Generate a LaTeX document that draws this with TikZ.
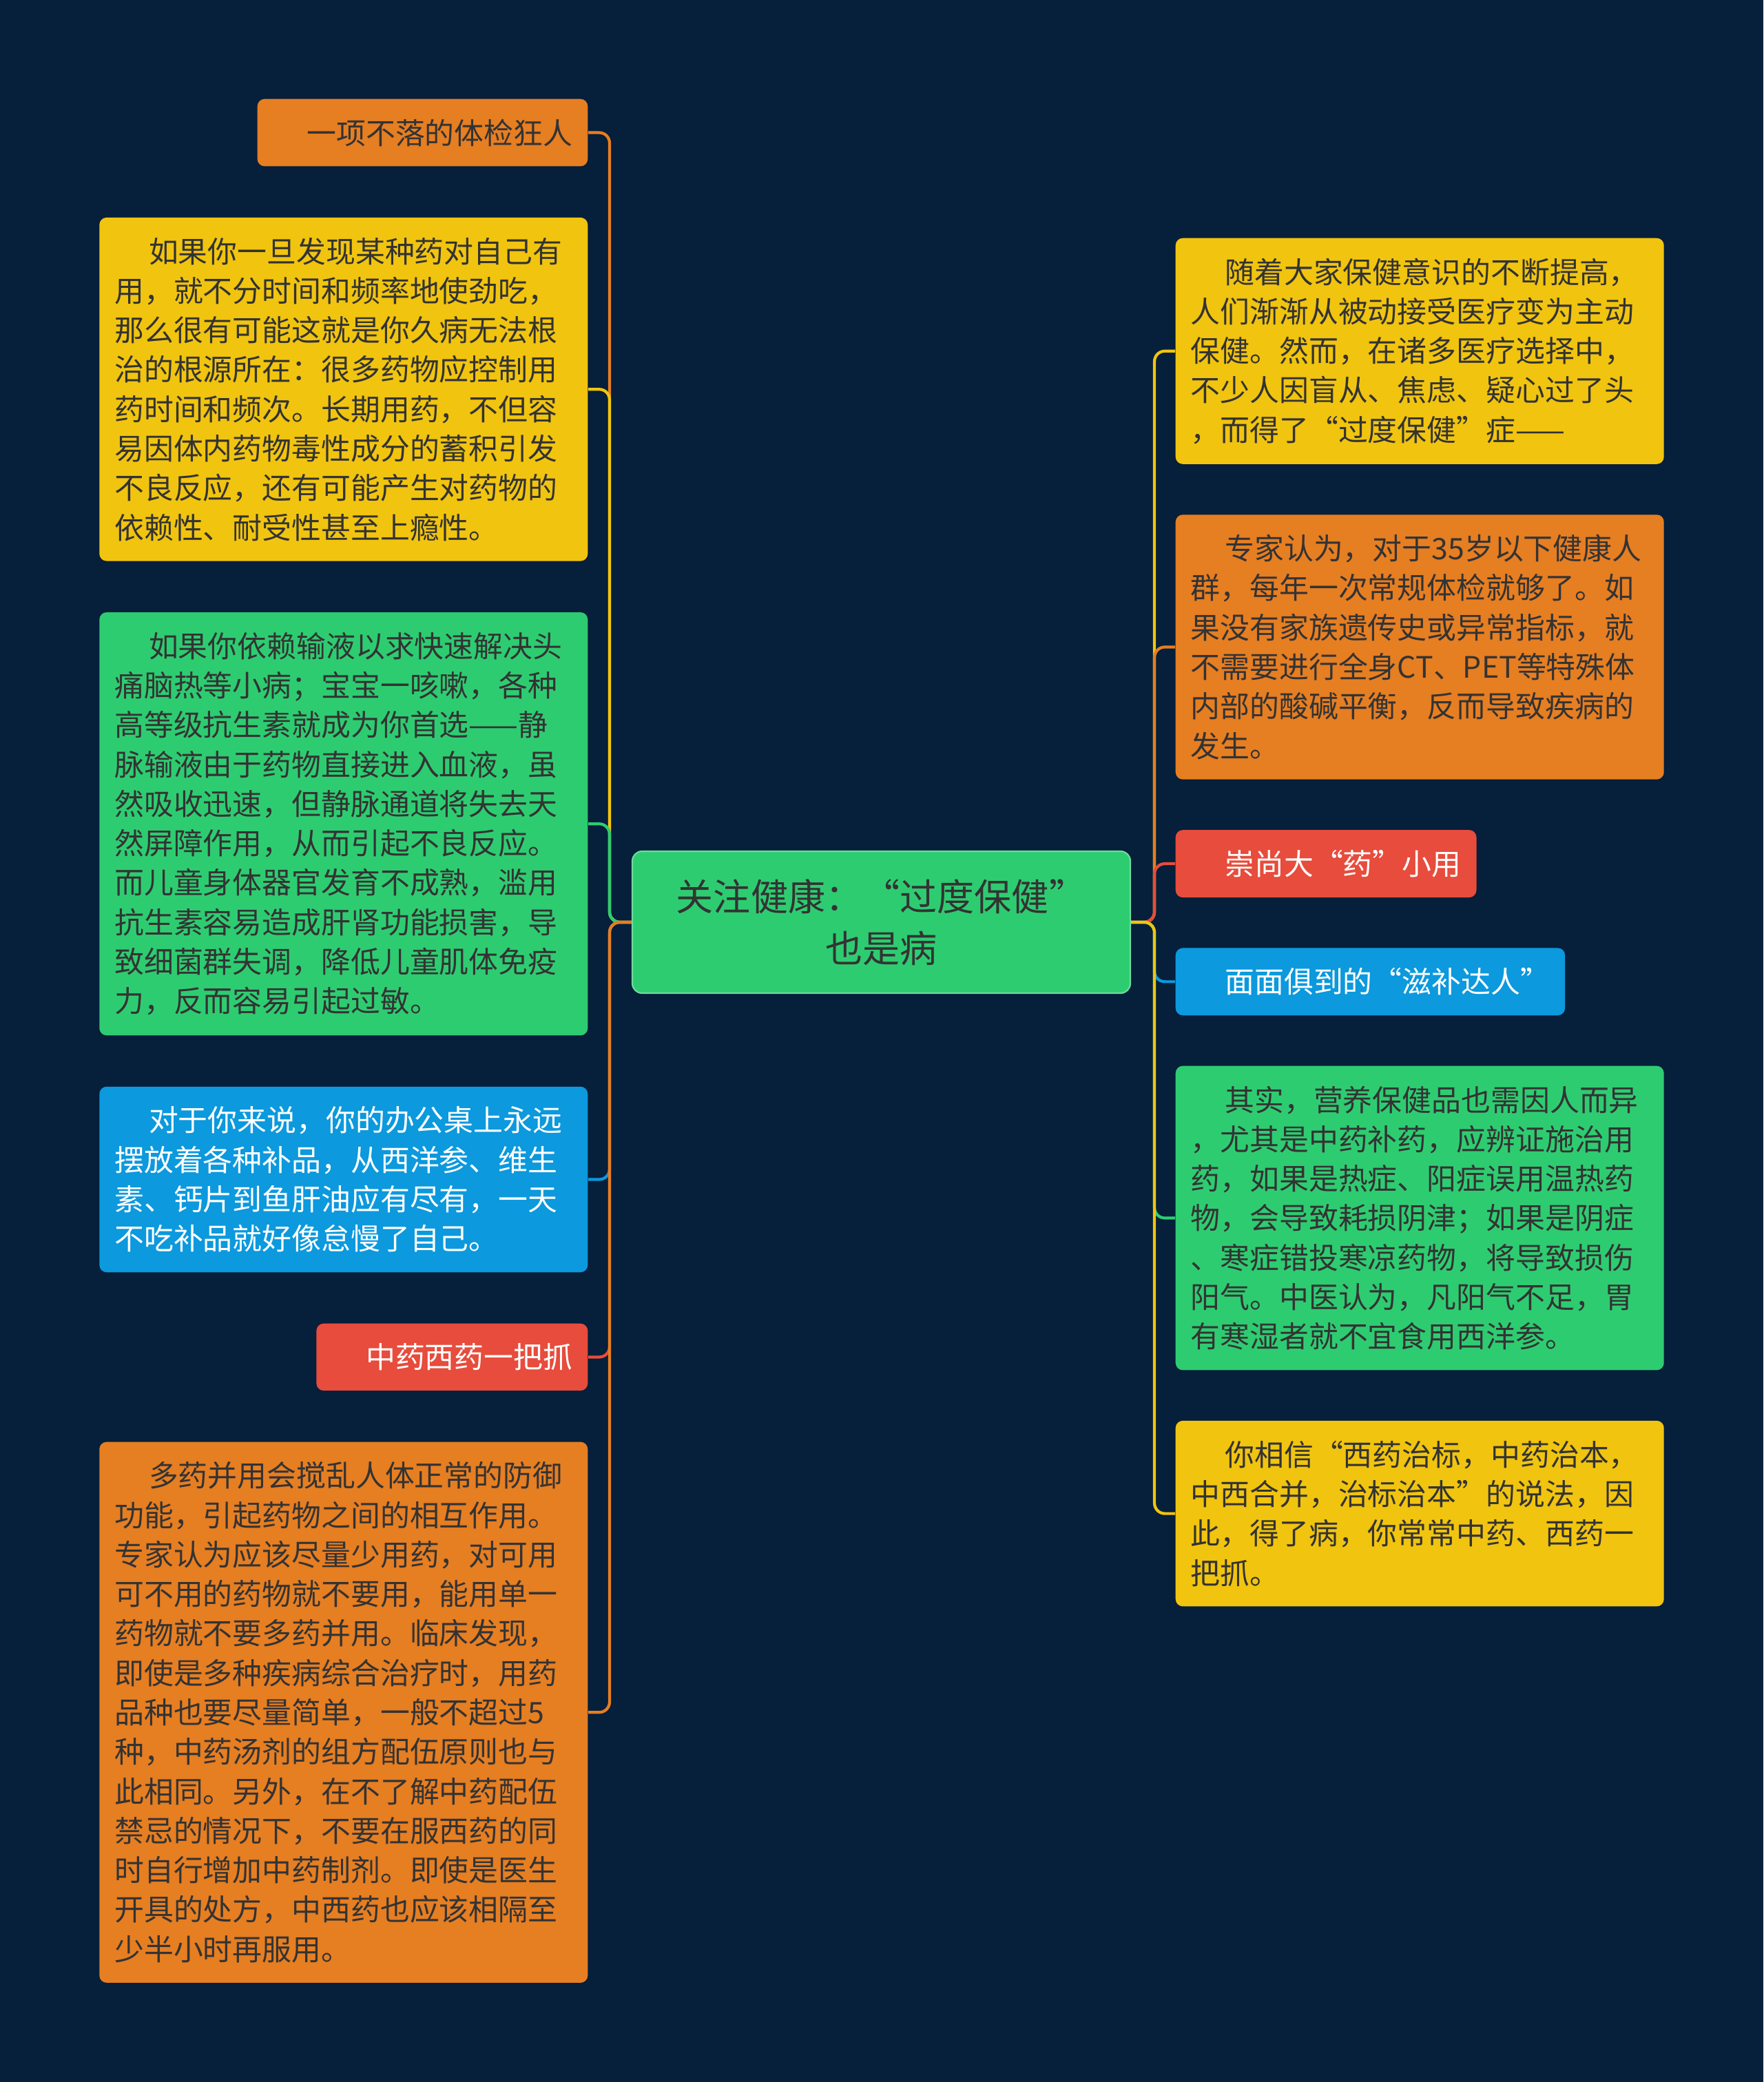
\documentclass[tikz,border=0pt]{standalone}
\usepackage{fontspec}
\setmainfont{Noto Sans CJK SC}
\usetikzlibrary{positioning}

\definecolor{nightC}{HTML}{061F3A}
\definecolor{sunC}{HTML}{F1C40F}
\definecolor{carrotC}{HTML}{E67E22}
\definecolor{leafC}{HTML}{2ECC71}
\definecolor{skyC}{HTML}{0C99DD}
\definecolor{tomatoC}{HTML}{E74C3C}
\definecolor{inkC}{HTML}{333333}

\newcommand{\firstgap}{\hspace*{1.16em}}

\begin{document}
\begin{tikzpicture}[
      font=\fontsize{12.2pt}{16.3pt}\selectfont,
      card/.style={rectangle, rounded corners=3pt, inner xsep=0.22cm,
          inner ysep=0.29cm, text=inkC, align=left},
      wide/.style={card, text width=6.65cm},
      hub/.style={rectangle, rounded corners=4pt, fill=leafC, draw=leafC!70!white,
          line width=0.6pt, minimum width=7.23cm, minimum height=2.06cm,
          align=center, text=inkC,
          font=\fontsize{15.4pt}{21.3pt}\selectfont},
      link/.style={line width=1.2pt, rounded corners=0.15cm}
  ]
  \fill[nightC] (0,0) rectangle (25.6,-30.23);
  \useasboundingbox (0,0) rectangle (25.6,-30.23);

  \node[hub] (hub) at (12.795,-13.39) {关注健康：“过度保健”\\也是病};

  % left side
  \node[card, fill=carrotC, anchor=north east] (l1) at (8.54,-1.43) {\firstgap 一项不落的体检狂人};
  \node[wide, fill=sunC, below left=0.73cm and 0cm of l1.south east] (l2) {%
      \firstgap 如果你一旦发现某种药对自己有\\
      用，就不分时间和频率地使劲吃，\\
      那么很有可能这就是你久病无法根\\
      治的根源所在：很多药物应控制用\\
      药时间和频次。长期用药，不但容\\
      易因体内药物毒性成分的蓄积引发\\
      不良反应，还有可能产生对药物的\\
      依赖性、耐受性甚至上瘾性。};
  \node[wide, fill=leafC, below left=0.73cm and 0cm of l2.south east] (l3) {%
      \firstgap 如果你依赖输液以求快速解决头\\
      痛脑热等小病；宝宝一咳嗽，各种\\
      高等级抗生素就成为你首选——静\\
      脉输液由于药物直接进入血液，虽\\
      然吸收迅速，但静脉通道将失去天\\
      然屏障作用，从而引起不良反应。\\
      而儿童身体器官发育不成熟，滥用\\
      抗生素容易造成肝肾功能损害，导\\
      致细菌群失调，降低儿童肌体免疫\\
      力，反而容易引起过敏。};
  \node[wide, fill=skyC, text=white, below left=0.73cm and 0cm of l3.south east] (l4) {%
      \firstgap 对于你来说，你的办公桌上永远\\
      摆放着各种补品，从西洋参、维生\\
      素、钙片到鱼肝油应有尽有，一天\\
      不吃补品就好像怠慢了自己。};
  \node[card, fill=tomatoC, text=white, below left=0.73cm and 0cm of l4.south east] (l5) {\firstgap 中药西药一把抓};
  \node[wide, fill=carrotC, below left=0.73cm and 0cm of l5.south east] (l6) {%
      \firstgap 多药并用会搅乱人体正常的防御\\
      功能，引起药物之间的相互作用。\\
      专家认为应该尽量少用药，对可用\\
      可不用的药物就不要用，能用单一\\
      药物就不要多药并用。临床发现，\\
      即使是多种疾病综合治疗时，用药\\
      品种也要尽量简单，一般不超过5\\
      种，中药汤剂的组方配伍原则也与\\
      此相同。另外，在不了解中药配伍\\
      禁忌的情况下，不要在服西药的同\\
      时自行增加中药制剂。即使是医生\\
      开具的处方，中西药也应该相隔至\\
      少半小时再服用。};

  % right side
  \node[wide, fill=sunC, anchor=north west] (r1) at (17.06,-3.45) {%
      \firstgap 随着大家保健意识的不断提高，\\
      人们渐渐从被动接受医疗变为主动\\
      保健。然而，在诸多医疗选择中，\\
      不少人因盲从、焦虑、疑心过了头\\
      ，而得了“过度保健”症——};
  \node[wide, fill=carrotC, below right=0.72cm and 0cm of r1.south west] (r2) {%
      \firstgap 专家认为，对于35岁以下健康人\\
      群，每年一次常规体检就够了。如\\
      果没有家族遗传史或异常指标，就\\
      不需要进行全身CT、PET等特殊体\\
      内部的酸碱平衡，反而导致疾病的\\
      发生。};
  \node[card, fill=tomatoC, text=white, below right=0.72cm and 0cm of r2.south west] (r3) {\firstgap 崇尚大“药”小用};
  \node[card, fill=skyC, text=white, below right=0.72cm and 0cm of r3.south west] (r4) {\firstgap 面面俱到的“滋补达人”};
  \node[wide, fill=leafC, below right=0.72cm and 0cm of r4.south west] (r5) {%
      \firstgap 其实，营养保健品也需因人而异\\
      ，尤其是中药补药，应辨证施治用\\
      药，如果是热症、阳症误用温热药\\
      物，会导致耗损阴津；如果是阴症\\
      、寒症错投寒凉药物，将导致损伤\\
      阳气。中医认为，凡阳气不足，胃\\
      有寒湿者就不宜食用西洋参。};
  \node[wide, fill=sunC, below right=0.72cm and 0cm of r5.south west] (r6) {%
      \firstgap 你相信“西药治标，中药治本，\\
      中西合并，治标治本”的说法，因\\
      此，得了病，你常常中药、西药一\\
      把抓。};

  % connectors
  \draw[link, carrotC] (hub.west) -- ++(-0.32,0) |- (l1.east);
  \draw[link, sunC]    (hub.west) -- ++(-0.32,0) |- (l2.east);
  \draw[link, leafC]   (hub.west) -- ++(-0.32,0) |- (l3.east);
  \draw[link, skyC]    (hub.west) -- ++(-0.32,0) |- (l4.east);
  \draw[link, tomatoC] (hub.west) -- ++(-0.32,0) |- (l5.east);
  \draw[link, carrotC] (hub.west) -- ++(-0.32,0) |- (l6.east);
  \draw[link, sunC]    (hub.east) -- ++(0.34,0) |- (r1.west);
  \draw[link, carrotC] (hub.east) -- ++(0.34,0) |- (r2.west);
  \draw[link, tomatoC] (hub.east) -- ++(0.34,0) |- (r3.west);
  \draw[link, skyC]    (hub.east) -- ++(0.34,0) |- (r4.west);
  \draw[link, leafC]   (hub.east) -- ++(0.34,0) |- (r5.west);
  \draw[link, sunC]    (hub.east) -- ++(0.34,0) |- (r6.west);
\end{tikzpicture}
\end{document}
